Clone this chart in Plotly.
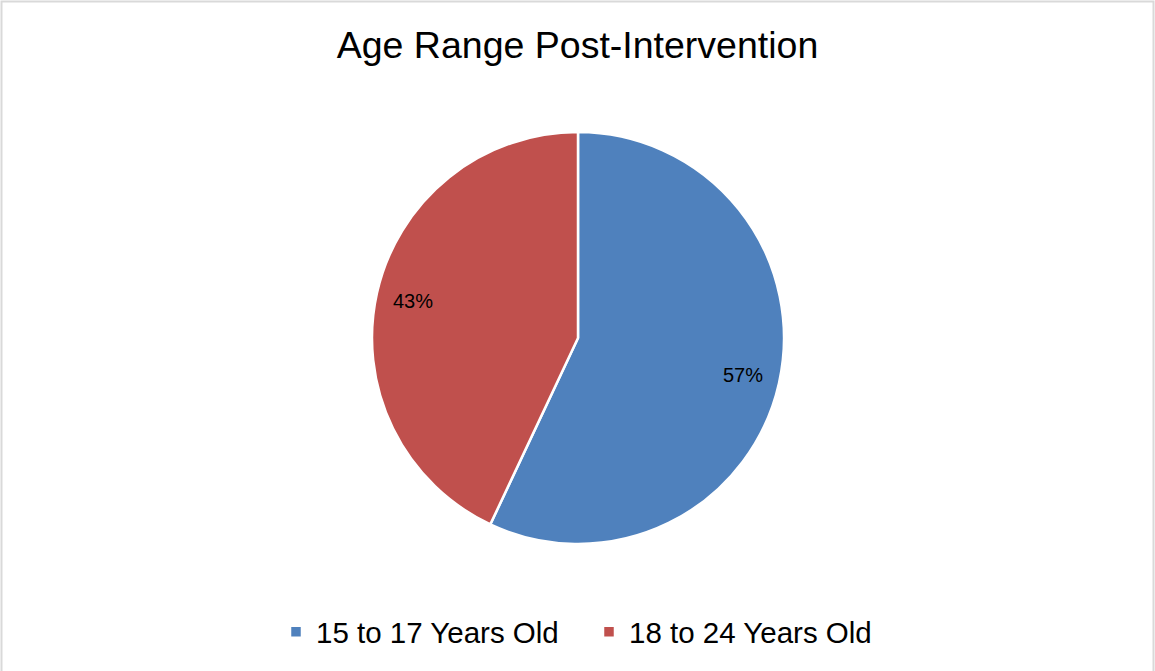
import math
import plotly.graph_objects as go

# Daten
labels = ["15 to 17 Years Old", "18 to 24 Years Old"]
values = [57, 43]
colors = ["#4F81BD", "#C0504D"]

W, H = 1155, 671
CX, CY, R = 578, 338, 206   # Kreismitte und Radius in Pixel
LABEL_R = 0.82              # Beschriftung relativ zum Radius

fig = go.Figure()

fig.add_trace(go.Pie(
    labels=labels,
    values=values,
    sort=False,
    direction='clockwise',
    rotation=0,
    marker=dict(colors=colors, line=dict(color='white', width=2.5)),
    textinfo='none',
    domain=dict(x=[(CX - R) / W, (CX + R) / W], y=[1 - (CY + R) / H, 1 - (CY - R) / H]),
    hoverinfo='label+percent'
))

# Prozent-Beschriftungen wie in Excel (weiter außen im Segment)
total = sum(values)
annotations = []
cum = 0
for v in values:
    mid = (cum + v / 2) / total * 2 * math.pi
    cum += v
    px = CX + LABEL_R * R * math.sin(mid)
    py = CY - LABEL_R * R * math.cos(mid)
    annotations.append(dict(
        x=px / W, y=1 - py / H, xref='paper', yref='paper',
        text=f"{round(v / total * 100)}%", showarrow=False,
        font=dict(family='Liberation Sans, Arial', size=20, color='black')
    ))

fig.update_layout(
    width=W,
    height=H,
    paper_bgcolor='white',
    plot_bgcolor='white',
    margin=dict(l=0, r=0, t=0, b=0),
    title=dict(
        text="Age Range Post-Intervention",
        x=0.5, xanchor='center',
        y=1 - 45 / H, yanchor='middle',
        font=dict(family='Liberation Sans, Arial', size=37.5, color='black')
    ),
    legend=dict(
        orientation='h',
        x=589 / W, xanchor='center',
        y=1 - 632 / H, yanchor='middle',
        font=dict(family='Liberation Sans, Arial', size=29.5, color='black'),
        entrywidth=268, entrywidthmode='pixels'
    ),
    annotations=annotations,
    shapes=[dict(
        type='rect', xref='paper', yref='paper',
        x0=1.5 / W, x1=1 - 1.5 / W, y0=-0.01, y1=1 - 1.5 / H,
        line=dict(color='#D9D9D9', width=2), fillcolor='rgba(0,0,0,0)'
    )]
)

fig.write_html("out.html", config={'displayModeBar': False},
               post_script="document.body.style.margin='0';")
